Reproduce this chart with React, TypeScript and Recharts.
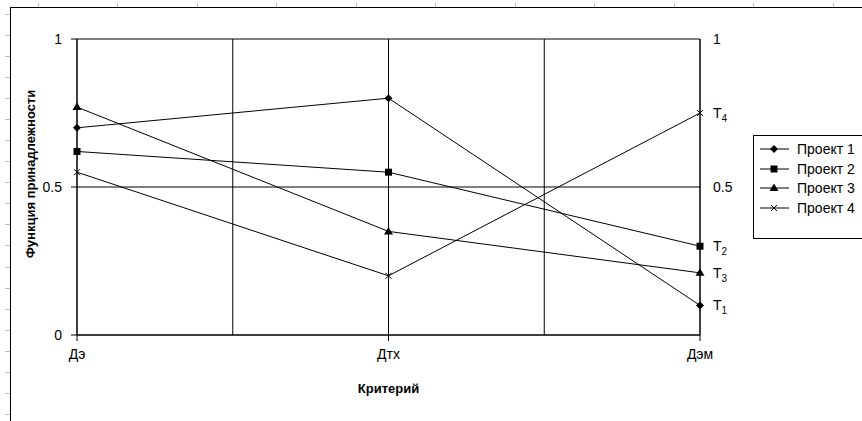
import React from "react";
import { LineChart, Line, XAxis, YAxis, CartesianGrid, Label } from "recharts";

const categories = ["Дэ", "Дтх", "Дэм"];
const project1 = [0.7, 0.8, 0.1];
const project2 = [0.62, 0.55, 0.3];
const project3 = [0.77, 0.35, 0.21];
const project4 = [0.55, 0.2, 0.75];
const seriesNames = ["Проект 1", "Проект 2", "Проект 3", "Проект 4"];
const leftTicks = [0, 0.5, 1];
const rightTicks = [1, 0.5];
const endLabels = ["1", "2", "3", "4"];

const FONT = "'Liberation Sans', Arial, sans-serif";

const data = categories.map((name, i) => ({
    name,
    p1: project1[i],
    p2: project2[i],
    p3: project3[i],
    p4: project4[i],
}));

const series = [
    { key: "p1", name: seriesNames[0], shape: "diamond", values: project1, sub: endLabels[0], axis: "left" },
    { key: "p2", name: seriesNames[1], shape: "square", values: project2, sub: endLabels[1], axis: "left" },
    { key: "p3", name: seriesNames[2], shape: "triangle", values: project3, sub: endLabels[2], axis: "left" },
    { key: "p4", name: seriesNames[3], shape: "cross", values: project4, sub: endLabels[3], axis: "right" },
];

function Marker({ shape, cx, cy }: { shape: string; cx: number; cy: number }) {
    if (shape === "diamond") {
        return <polygon points={`${cx},${cy - 4} ${cx + 4},${cy} ${cx},${cy + 4} ${cx - 4},${cy}`} fill="#000" />;
    }
    if (shape === "square") {
        return <rect x={cx - 3.5} y={cy - 3.5} width={7} height={7} fill="#000" />;
    }
    if (shape === "triangle") {
        return <polygon points={`${cx},${cy - 4.5} ${cx + 4.5},${cy + 3} ${cx - 4.5},${cy + 3}`} fill="#000" />;
    }
    return (
        <g stroke="#000" strokeWidth={1}>
            <line x1={cx - 3} y1={cy - 3} x2={cx + 3} y2={cy + 3} />
            <line x1={cx - 3} y1={cy + 3} x2={cx + 3} y2={cy - 3} />
        </g>
    );
}

// right side: 1 and 0.5, then T-labels next to each series' last point
const rightTickValues = [...rightTicks, ...series.map((s) => s.values[s.values.length - 1])];

function RightTick(props: any) {
    const { x, y, payload } = props;
    const v = payload.value;
    const idx = series.findIndex((s) => s.values[s.values.length - 1] === v);
    if (rightTicks.includes(v) || idx < 0) {
        return (
            <text x={x} y={y} dy={5} fontSize={14} fontFamily={FONT} fill="#000">
                {String(v)}
            </text>
        );
    }
    return (
        <text x={x} y={y} dy={5} fontSize={14} fontFamily={FONT} fill="#000">
            <tspan>T</tspan>
            <tspan dy={4} fontSize={10}>{series[idx].sub}</tspan>
        </text>
    );
}

function YTitle(props: any) {
    const { viewBox } = props;
    const x = 30;
    const y = viewBox.y + viewBox.height / 2 - 13;
    return (
        <text x={x} y={y} transform={`rotate(-90 ${x} ${y})`} textAnchor="middle" dominantBaseline="central"
            fontSize={13} fontWeight="bold" fontFamily={FONT} fill="#000">
            Функция принадлежности
        </text>
    );
}

const leftRuler = [14, 35, 56, 77, 98, 119, 140, 161, 182, 203, 224, 245, 267, 288, 309, 330, 351, 372, 393, 414];
const topRuler = [38, 117, 197, 276, 356, 435, 515, 594, 674, 753, 833];

export default function App() {
    return (
        <div style={{ position: "absolute", left: 0, top: 0, width: 862, height: 421, background: "#fff", overflow: "hidden" }}>
            <div style={{ position: "absolute", left: 10, top: 7, width: 860, height: 420, borderLeft: "1px solid #000", borderTop: "1px solid #000" }} />
            {leftRuler.map((y) => (
                <div key={"l" + y} style={{ position: "absolute", left: 5, top: y, width: 5, height: 1, background: "#bbb" }} />
            ))}
            {topRuler.map((x) => (
                <div key={"t" + x} style={{ position: "absolute", left: x, top: 3, width: 1, height: 4, background: "#bbb" }} />
            ))}
            <div style={{ position: "absolute", left: 0, top: 0 }}>
                <LineChart width={862} height={421} data={data} margin={{ top: 39, right: 100, bottom: 26, left: 0 }}>
                    <CartesianGrid
                        stroke="#000"
                        yAxisId="left"
                        verticalCoordinatesGenerator={({ offset }: any) =>
                            [0, 1, 2, 3, 4].map((i) => offset.left + (offset.width * i) / 4)
                        }
                    />
                    <XAxis
                        dataKey="name"
                        height={60}
                        stroke="#000"
                        tickSize={6}
                        tickMargin={8}
                        tick={{ fill: "#000", fontSize: 14, fontFamily: FONT }}
                        interval={0}
                    >
                        <Label value="Критерий" position="insideBottom" offset={2} fill="#000"
                            style={{ fontSize: 13, fontWeight: "bold", fontFamily: FONT }} />
                    </XAxis>
                    <YAxis
                        yAxisId="left"
                        width={77}
                        domain={[0, 1]}
                        ticks={leftTicks}
                        interval={0}
                        stroke="#000"
                        tickSize={6}
                        tickMargin={9}
                        tick={{ fill: "#000", fontSize: 14, fontFamily: FONT }}
                        label={<YTitle />}
                    />
                    <YAxis
                        yAxisId="right"
                        orientation="right"
                        width={62}
                        domain={[0, 1]}
                        allowDataOverflow
                        ticks={rightTickValues}
                        interval={0}
                        stroke="#000"
                        tickLine={false}
                        tickSize={0}
                        tickMargin={13}
                        tick={(p: any) => <RightTick key={"rt" + p.index} {...p} />}
                    />
                    {series.map((s) => (
                        <Line
                            key={s.key}
                            yAxisId={s.axis}
                            type="linear"
                            dataKey={s.key}
                            name={s.name}
                            stroke="#000"
                            strokeWidth={1}
                            isAnimationActive={false}
                            dot={(p: any) => <Marker key={s.key + p.index} shape={s.shape} cx={p.cx} cy={p.cy} />}
                            activeDot={false}
                        />
                    ))}
                </LineChart>
            </div>
            <div style={{ position: "absolute", left: 753, top: 135, width: 110, height: 104, border: "1px solid #000", boxSizing: "border-box", background: "#fff" }}>
                {series.map((s, i) => (
                    <div key={s.key} style={{ position: "absolute", left: 0, top: 3 + i * 19.7, height: 20, display: "flex", alignItems: "center" }}>
                        <svg width={40} height={20} style={{ display: "block" }}>
                            <line x1={6} y1={10} x2={35} y2={10} stroke="#000" strokeWidth={1} />
                            <Marker shape={s.shape} cx={20} cy={10} />
                        </svg>
                        <span style={{ fontSize: 14, fontFamily: FONT, color: "#000", marginLeft: 3, whiteSpace: "nowrap" }}>{s.name}</span>
                    </div>
                ))}
            </div>
        </div>
    );
}
